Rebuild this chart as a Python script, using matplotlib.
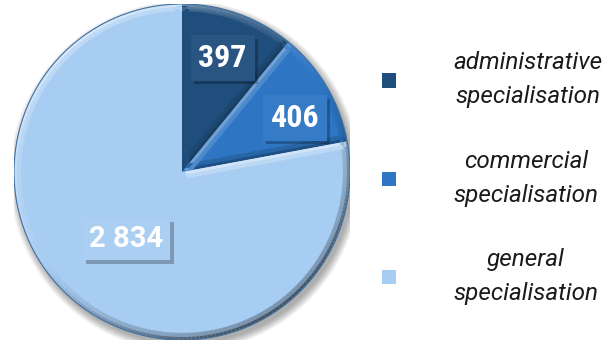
import numpy as np
import matplotlib
matplotlib.use("Agg")
import matplotlib.pyplot as plt
from matplotlib.collections import LineCollection
from matplotlib.patches import Circle
from matplotlib import patheffects as pe
from matplotlib.colors import to_rgb

# Data
categories = ["administrative\nspecialisation", "commercial\nspecialisation", "general\nspecialisation"]
values = [397, 406, 2834]
value_labels = ["397", "406", "2 834"]
colors = ["#1F4E7C", "#2E76C4", "#A8CDF2"]
label_radius = [0.72, 0.745, 0.52]
label_angle_shift = [0.0, -5.0, 0.0]

fig = plt.figure(figsize=(6.16, 3.45), dpi=100)
ax = fig.add_axes([14 / 616, 5 / 345, 336 / 616, 336 / 345])

# soft drop shadow under the pie
for k in range(10):
    r = 1.0 + 0.005 * k
    ax.add_patch(Circle((0.018, -0.025), r, facecolor="#000000", edgecolor="none",
                        alpha=0.035, zorder=0))

wedges, _ = ax.pie(values, colors=colors, startangle=90, counterclock=False,
                   radius=1.0, wedgeprops=dict(edgecolor="none", linewidth=0))
for w in wedges:
    w.set_zorder(1)
ax.set_xlim(-1, 1)
ax.set_ylim(-1, 1)
ax.set_aspect("equal")
ax.axis("off")

arc_light = np.array([-0.55, 0.83])
arc_light /= np.linalg.norm(arc_light)
edge_light = np.array([0.0, 1.0])


def shade(base, amount):
    c = np.array(to_rgb(base))
    if amount >= 0:
        return tuple(c + (1 - c) * amount)
    return tuple(c * (1 + amount))


def bevel(w, base):
    """Bevelled rim: lighter where the edge faces the light, darker where it faces away."""
    t1, t2 = np.deg2rad(w.theta1), np.deg2rad(w.theta2)
    segs, cols, widths = [], [], []
    for inset, lw, strength in [(0.012, 4.5, 0.55), (0.03, 3.0, 0.25)]:
        # outer arc
        ts = np.linspace(t1, t2, 200)
        rr = 1.0 - inset
        pts = np.column_stack([rr * np.cos(ts), rr * np.sin(ts)])
        for i in range(len(ts) - 1):
            n = np.array([np.cos(ts[i]), np.sin(ts[i])])
            d = float(n @ arc_light)
            segs.append(pts[i:i + 2])
            cols.append(shade(base, strength * d if d > 0 else strength * 1.1 * d))
            widths.append(lw)
        # radial edges
        for t, n in [(t1, np.array([np.sin(t1), -np.cos(t1)])),
                     (t2, np.array([-np.sin(t2), np.cos(t2)]))]:
            u = np.array([np.cos(t), np.sin(t)])
            off = -n * inset
            p0 = off + u * 0.02
            p1 = off + u * (1.0 - inset)
            d = float(n @ edge_light)
            s = strength * (0.9 if d > 0 else 0.6)
            segs.append(np.array([p0, p1]))
            cols.append(shade(base, s * d))
            widths.append(lw)
    lc = LineCollection(segs, colors=cols, linewidths=widths, capstyle="butt", zorder=2)
    lc.set_clip_path(w)
    ax.add_collection(lc)


for w, c in zip(wedges, colors):
    bevel(w, c)

ax.add_patch(Circle((0, 0), 1.0, facecolor="none", edgecolor="#3F6FA0",
                    linewidth=0.8, zorder=3))

# value labels in boxes
narrow = ["Roboto Condensed", "DejaVu Sans Condensed", "Liberation Sans Narrow", "Roboto"]
label_fonts = [
    dict(family=narrow, size=23, weight="bold"),
    dict(family=narrow, size=23, weight="bold"),
    dict(family=["Roboto", "DejaVu Sans"], size=21, weight="bold"),
]
for w, txt, r, da, c, f in zip(wedges, value_labels, label_radius, label_angle_shift,
                               colors, label_fonts):
    mid = np.deg2rad((w.theta1 + w.theta2) / 2 + da)
    t = ax.text(r * np.cos(mid), r * np.sin(mid), txt, color="white", ha="center",
                va="center", zorder=5, **f,
                bbox=dict(boxstyle="square,pad=0.24", facecolor=shade(c, 0.04),
                          edgecolor="none"))
    t.get_bbox_patch().set_path_effects([
        pe.SimplePatchShadow(offset=(2.5, -2.5), shadow_rgbFace="#000000", alpha=0.25),
        pe.Normal()])

leg = fig.legend(wedges, categories, loc="center left", bbox_to_anchor=(0.601, 0.483),
                 frameon=False, borderpad=0, handlelength=0.58, handleheight=0.54,
                 handletextpad=2.35, labelspacing=1.7,
                 prop=dict(family="Roboto", style="italic", size=17.5))
for t in leg.get_texts():
    t.set_multialignment("center")
    t.set_linespacing(1.62)
    t.set_color("#1A1A1A")

fig.savefig("out.png", dpi=100)
